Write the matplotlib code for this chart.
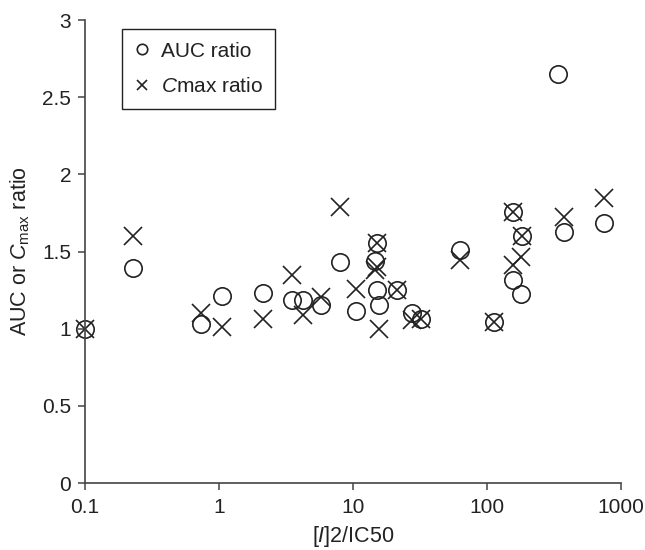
import numpy as np
import matplotlib.pyplot as plt
from matplotlib.ticker import FixedLocator, FixedFormatter, NullLocator

plt.rcParams['font.family'] = ['Liberation Sans', 'DejaVu Sans']
plt.rcParams['mathtext.fontset'] = 'custom'
plt.rcParams['mathtext.rm'] = 'Liberation Sans'
plt.rcParams['mathtext.it'] = 'Liberation Sans:italic'

# [I]2/IC50 for each drug, with its AUC and Cmax ratios (nan = not reported)
ratio_x = [0.1, 0.23, 0.73, 1.06, 2.14, 3.48, 4.26, 5.77, 8.0, 10.5,
           14.6, 15.0, 15.2, 15.5, 21.4, 27.4, 32.1, 63, 113,
           157, 157, 182, 178, 340, 378, 752]
auc_ratio = [1.00, 1.39, 1.03, 1.21, 1.23, 1.185, 1.185, 1.153, 1.43, 1.114,
             1.44, 1.25, 1.556, 1.153, 1.25, 1.10, 1.062, 1.513, 1.045,
             1.757, 1.315, 1.60, 1.224, 2.653, 1.628, 1.682]
cmax_ratio = [1.00, 1.60, 1.10, 1.01, 1.06, 1.35, 1.088, 1.207, 1.79, 1.26,
              1.38, 1.40, 1.556, 1.00, 1.25, 1.056, 1.06, 1.444, 1.045,
              1.757, 1.412, 1.60, 1.466, np.nan, 1.725, 1.844]

x_ticks = [0.1, 1, 10, 100, 1000]
x_tick_labels = ['0.1', '1', '10', '100', '1000']
y_ticks = [0, 0.5, 1, 1.5, 2, 2.5, 3]
y_tick_labels = ['0', '0.5', '1', '1.5', '2', '2.5', '3']

ink = '#222222'

fig = plt.figure(figsize=(6.45, 5.5), dpi=100)
ax = fig.add_axes([0.1318, 0.1218, 0.831, 0.8418])

ax.plot(ratio_x, auc_ratio, linestyle='none', marker='o', markersize=12.5,
        markerfacecolor='none', markeredgecolor=ink, markeredgewidth=1.2,
        label='AUC ratio', clip_on=False)
ax.plot(ratio_x, cmax_ratio, linestyle='none', marker='x', markersize=12.5,
        markeredgecolor=ink, markeredgewidth=1.2, label='$C$max ratio',
        clip_on=False)

ax.set_xscale('log')
ax.set_xlim(0.1, 1000)
ax.set_ylim(0, 3)
ax.xaxis.set_major_locator(FixedLocator(x_ticks))
ax.xaxis.set_major_formatter(FixedFormatter(x_tick_labels))
ax.xaxis.set_minor_locator(NullLocator())
ax.yaxis.set_major_locator(FixedLocator(y_ticks))
ax.yaxis.set_major_formatter(FixedFormatter(y_tick_labels))

for side in ['top', 'right']:
    ax.spines[side].set_visible(False)
for side in ['left', 'bottom']:
    ax.spines[side].set_color('#444444')
    ax.spines[side].set_linewidth(1.2)
ax.tick_params(axis='both', direction='out', length=5, width=1.1,
               color='#444444', labelsize=15, labelcolor=ink)
ax.tick_params(axis='x', pad=6)
ax.tick_params(axis='y', pad=5)

ax.set_xlabel('[$I$]2/IC50', fontsize=15.5, color=ink, labelpad=5)
ax.set_ylabel('AUC or $C_{\\mathrm{max}}$ ratio', fontsize=15.5, color=ink,
              labelpad=7)

leg = ax.legend(loc='upper left', bbox_to_anchor=(0.069, 0.98),
                borderaxespad=0, fontsize=15, frameon=True, fancybox=False,
                edgecolor=ink, framealpha=1, handletextpad=0.55,
                handlelength=0.7, labelspacing=0.8, borderpad=0.6,
                markerscale=0.6)
leg.get_frame().set_linewidth(1.0)
for text in leg.get_texts():
    text.set_color(ink)

fig.savefig('out.png', dpi=100)
